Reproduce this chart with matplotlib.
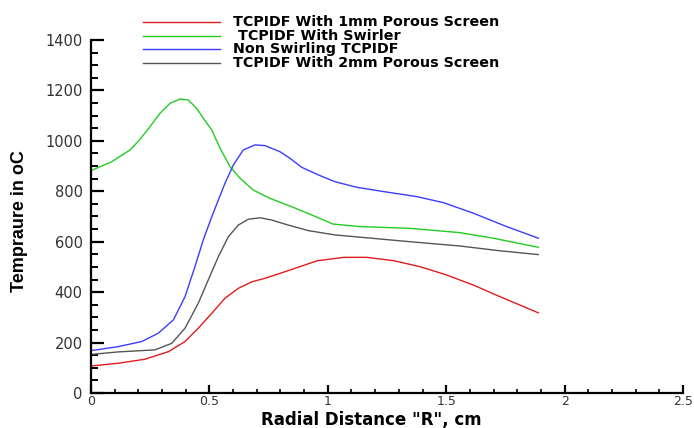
import matplotlib
matplotlib.use("Agg")
import matplotlib.pyplot as plt
from matplotlib.lines import Line2D
from matplotlib.ticker import MultipleLocator

# Radial temperature profiles (R in cm, T in degC)
r_1mm = [0.0, 0.115, 0.228, 0.327, 0.397, 0.453, 0.510, 0.566, 0.622, 0.679, 0.735,
         0.819, 0.904, 0.953, 1.066, 1.164, 1.277, 1.389, 1.502, 1.615, 1.727, 1.889]
t_1mm = [107, 118, 134, 164, 204, 257, 316, 376, 415, 441, 455,
         481, 508, 524, 538, 538, 525, 501, 468, 428, 382, 318]

r_swirl = [0.0, 0.087, 0.165, 0.207, 0.249, 0.291, 0.334, 0.376, 0.411, 0.446, 0.474,
           0.510, 0.545, 0.587, 0.629, 0.685, 0.756, 0.847, 0.932, 1.022, 1.136, 1.347,
           1.558, 1.698, 1.889]
t_swirl = [882, 917, 964, 1006, 1056, 1109, 1149, 1166, 1162, 1129, 1090,
           1043, 971, 898, 852, 805, 772, 739, 706, 670, 660, 653,
           636, 614, 578]

r_nonswirl = [0.0, 0.115, 0.214, 0.284, 0.348, 0.397, 0.439, 0.474, 0.510, 0.538, 0.566,
              0.601, 0.643, 0.693, 0.735, 0.798, 0.840, 0.890, 0.960, 1.030, 1.122, 1.234,
              1.375, 1.488, 1.615, 1.755, 1.889]
t_nonswirl = [168, 184, 204, 237, 290, 382, 501, 607, 699, 766, 832,
              904, 964, 984, 981, 957, 931, 895, 865, 838, 816, 799,
              779, 755, 713, 660, 614]

r_2mm = [0.0, 0.115, 0.270, 0.341, 0.397, 0.453, 0.495, 0.538, 0.580, 0.622, 0.664,
         0.714, 0.763, 0.833, 0.918, 1.030, 1.136, 1.347, 1.558, 1.727, 1.889]
t_2mm = [153, 163, 171, 197, 257, 356, 448, 541, 620, 666, 689,
         695, 686, 666, 644, 627, 618, 600, 583, 564, 549]

labels = ["TCPIDF With 1mm Porous Screen", " TCPIDF With Swirler",
          "Non Swirling TCPIDF", "TCPIDF With 2mm Porous Screen"]
colors = ["#e01c1c", "#22cc22", "#3c3cff", "#555555"]

x_ticks = [0, 0.5, 1, 1.5, 2, 2.5]
x_ticklabels = ["0", "0.5", "1", "1.5", "2", "2.5"]

W, H = 694, 428
fig = plt.figure(figsize=(W / 100, H / 100), dpi=100)
ax = fig.add_axes([91 / W, 1 - 393 / H, (683 - 91) / W, (393 - 40) / H])

series = [(r_1mm, t_1mm), (r_swirl, t_swirl), (r_nonswirl, t_nonswirl), (r_2mm, t_2mm)]
for (r, t), c in zip(series, colors):
    ax.plot(r, t, color=c, lw=1.0, clip_on=False)

ax.set_xlim(0, 2.5)
ax.set_ylim(0, 1400)
ax.spines["top"].set_visible(False)
ax.spines["right"].set_visible(False)
for s in ("left", "bottom"):
    ax.spines[s].set_linewidth(1.6)

ax.xaxis.set_minor_locator(MultipleLocator(0.1))
ax.yaxis.set_major_locator(MultipleLocator(200))
ax.yaxis.set_minor_locator(MultipleLocator(50))
ax.set_xticks(x_ticks)
ax.set_xticklabels(x_ticklabels)

ax.tick_params(axis="y", which="major", direction="in", length=9, width=1.6,
               labelsize=10.5, pad=6, labelcolor="#333333")
ax.tick_params(axis="y", which="minor", direction="in", length=5, width=1.4)
ax.tick_params(axis="x", which="major", direction="in", length=6, width=1.6,
               labelsize=9, pad=1.5, labelcolor="#333333")
ax.tick_params(axis="x", which="minor", direction="in", length=3, width=1.2)
for lab in ax.get_xticklabels() + ax.get_yticklabels():
    lab.set_family("DejaVu Sans")

fig.text(371 / W, 1 - 419.5 / H, 'Radial Distance "R", cm', ha="center", va="center",
         fontsize=12, fontweight="bold", family="DejaVu Sans")
fig.text(20 / W, 1 - 221 / H, "Tempraure in oC", ha="center", va="center",
         rotation=90, fontsize=13, fontweight="bold", family="Liberation Sans")

# Legend drawn in figure pixels
rows = [22, 36, 49, 63]
for y, lab, c in zip(rows, labels, colors):
    fy = 1 - y / H
    fig.add_artist(Line2D([143 / W, 220 / W], [fy, fy], color=c, lw=1.0,
                          transform=fig.transFigure))
    fig.text(233 / W, fy, lab, ha="left", va="center", fontsize=10.3,
             fontweight="bold", family="DejaVu Sans")

fig.savefig("out.png", dpi=100)
